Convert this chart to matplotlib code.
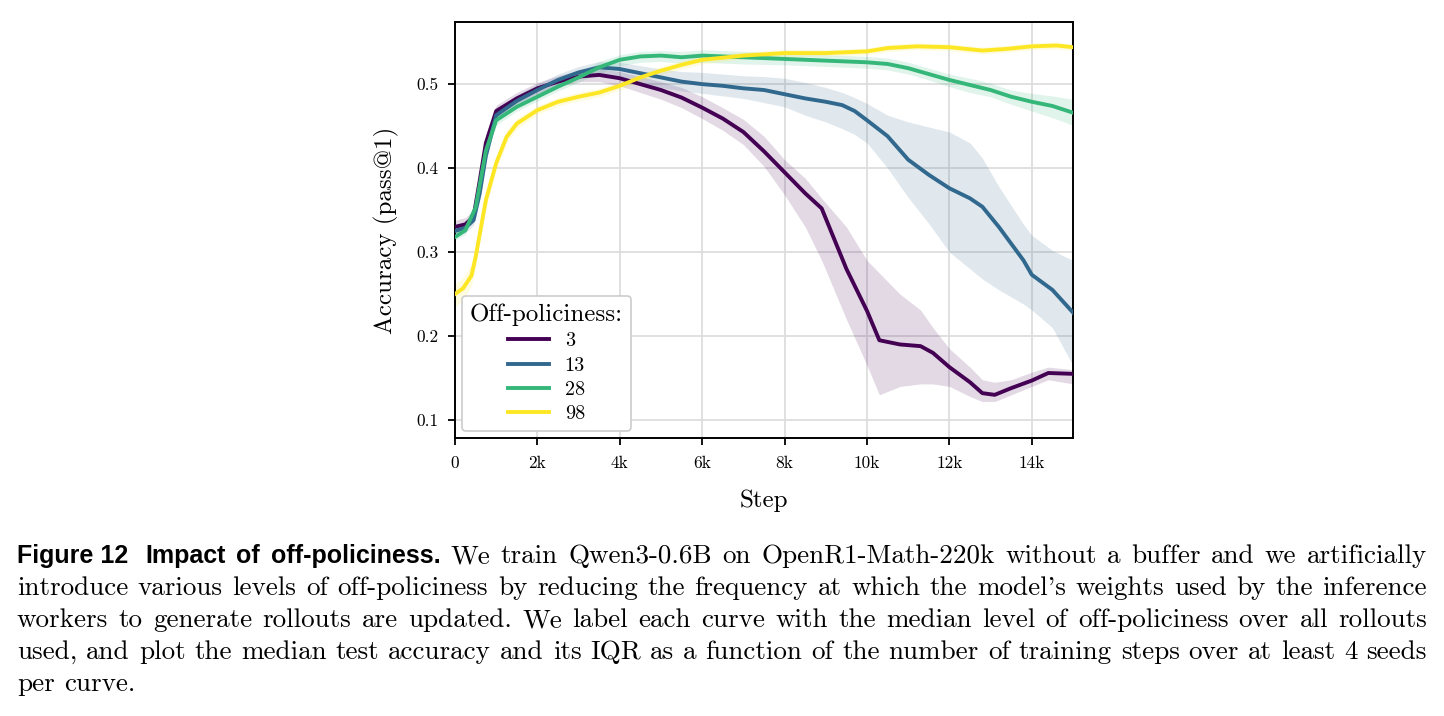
import matplotlib
matplotlib.use("Agg")
import matplotlib.pyplot as plt
import matplotlib.transforms as mtransforms
from matplotlib.ticker import FuncFormatter

plt.rcParams['font.family'] = ['cmr10', 'DejaVu Serif']
plt.rcParams['mathtext.fontset'] = 'cm'
plt.rcParams['axes.formatter.use_mathtext'] = True

# --- data ---
labels = ['3', '13', '28', '98']
colors = ['#440154', '#31688e', '#35b779', '#fde725']

steps_3 = [0, 250, 450, 600, 750, 1000, 1500, 2000, 2500, 3000, 3500, 4000, 4500, 5000, 5500,
           6000, 6500, 7000, 7500, 8000, 8500, 8900, 9500, 10000, 10300, 10800, 11300, 11600,
           12000, 12500, 12800, 13100, 13500, 14000, 14400, 15000]
acc_3 = [0.330, 0.333, 0.342, 0.385, 0.430, 0.468, 0.483, 0.495, 0.503, 0.509, 0.511, 0.507, 0.500,
         0.493, 0.484, 0.472, 0.459, 0.443, 0.420, 0.395, 0.370, 0.352, 0.280, 0.230, 0.195, 0.190,
         0.188, 0.180, 0.163, 0.145, 0.132, 0.130, 0.138, 0.147, 0.156, 0.155]
lo_3 = [0.325, 0.328, 0.336, 0.375, 0.420, 0.461, 0.477, 0.489, 0.497, 0.503, 0.503, 0.498, 0.490,
        0.482, 0.472, 0.459, 0.445, 0.428, 0.402, 0.368, 0.330, 0.290, 0.220, 0.165, 0.130, 0.140,
        0.143, 0.143, 0.140, 0.128, 0.122, 0.122, 0.130, 0.140, 0.148, 0.143]
hi_3 = [0.338, 0.341, 0.350, 0.393, 0.440, 0.475, 0.490, 0.502, 0.510, 0.516, 0.518, 0.515, 0.509,
        0.503, 0.496, 0.485, 0.472, 0.458, 0.438, 0.410, 0.388, 0.364, 0.330, 0.290, 0.275, 0.250,
        0.231, 0.210, 0.185, 0.163, 0.148, 0.145, 0.148, 0.157, 0.163, 0.160]

steps_13 = [0, 250, 450, 600, 750, 1000, 1500, 2000, 2500, 3000, 3500, 4000, 4500, 5000, 5500,
            6000, 6500, 7000, 7500, 8000, 8500, 9000, 9400, 9700, 10000, 10500, 11000, 11500,
            12000, 12500, 12800, 13200, 13800, 14000, 14500, 15000]
acc_13 = [0.325, 0.329, 0.338, 0.370, 0.415, 0.463, 0.480, 0.493, 0.505, 0.514, 0.520, 0.518, 0.513,
          0.508, 0.503, 0.500, 0.498, 0.495, 0.493, 0.488, 0.483, 0.479, 0.475, 0.468, 0.457, 0.438,
          0.410, 0.392, 0.376, 0.364, 0.354, 0.330, 0.290, 0.273, 0.255, 0.228]
lo_13 = [0.320, 0.323, 0.332, 0.362, 0.407, 0.456, 0.473, 0.486, 0.498, 0.507, 0.512, 0.508, 0.502,
         0.496, 0.492, 0.489, 0.486, 0.483, 0.478, 0.473, 0.463, 0.455, 0.447, 0.440, 0.430, 0.400,
         0.365, 0.334, 0.300, 0.280, 0.268, 0.255, 0.238, 0.231, 0.210, 0.165]
hi_13 = [0.332, 0.335, 0.345, 0.378, 0.423, 0.470, 0.487, 0.500, 0.512, 0.521, 0.527, 0.526, 0.522,
         0.518, 0.515, 0.514, 0.512, 0.510, 0.509, 0.507, 0.502, 0.496, 0.490, 0.484, 0.477, 0.463,
         0.455, 0.449, 0.443, 0.430, 0.412, 0.378, 0.333, 0.320, 0.302, 0.290]

steps_28 = [0, 250, 500, 750, 1000, 1500, 2000, 2500, 3000, 3500, 4000, 4500, 5000, 5500, 6000,
            7000, 8000, 9000, 10000, 10500, 11000, 11500, 12000, 12500, 13000, 13500, 14000,
            14500, 15000]
acc_28 = [0.318, 0.326, 0.353, 0.421, 0.457, 0.473, 0.485, 0.497, 0.508, 0.520, 0.529, 0.533, 0.534,
          0.532, 0.534, 0.532, 0.530, 0.528, 0.526, 0.524, 0.519, 0.512, 0.505, 0.499, 0.493, 0.485,
          0.479, 0.474, 0.466]
lo_28 = [0.314, 0.321, 0.346, 0.413, 0.451, 0.468, 0.480, 0.492, 0.502, 0.513, 0.522, 0.526, 0.527,
         0.525, 0.526, 0.524, 0.523, 0.521, 0.519, 0.517, 0.512, 0.505, 0.497, 0.490, 0.485, 0.476,
         0.468, 0.460, 0.451]
hi_28 = [0.322, 0.331, 0.360, 0.429, 0.463, 0.478, 0.490, 0.502, 0.514, 0.527, 0.535, 0.539, 0.540,
         0.539, 0.541, 0.539, 0.537, 0.535, 0.533, 0.531, 0.526, 0.519, 0.512, 0.507, 0.501, 0.493,
         0.489, 0.486, 0.482]

steps_98 = [0, 200, 400, 500, 750, 1000, 1250, 1500, 2000, 2500, 3000, 3500, 4000, 4500, 5000,
            5500, 6000, 7000, 8000, 9000, 10000, 10500, 11200, 12000, 12800, 13400, 14000, 14600,
            15000]
acc_98 = [0.250, 0.257, 0.272, 0.294, 0.362, 0.406, 0.437, 0.453, 0.469, 0.479, 0.485, 0.490, 0.498,
          0.508, 0.516, 0.523, 0.529, 0.534, 0.537, 0.537, 0.539, 0.543, 0.545, 0.544, 0.540, 0.542,
          0.545, 0.546, 0.544]
lo_98 = [0.235, 0.243, 0.260, 0.283, 0.352, 0.398, 0.430, 0.447, 0.464, 0.474, 0.480, 0.485, 0.493,
         0.503, 0.511, 0.518, 0.524, 0.530, 0.533, 0.533, 0.535, 0.539, 0.541, 0.540, 0.536, 0.538,
         0.541, 0.542, 0.540]
hi_98 = [0.262, 0.270, 0.285, 0.306, 0.372, 0.414, 0.444, 0.459, 0.474, 0.484, 0.490, 0.495, 0.503,
         0.513, 0.521, 0.528, 0.534, 0.538, 0.541, 0.541, 0.543, 0.547, 0.549, 0.548, 0.544, 0.546,
         0.549, 0.550, 0.548]

x_ticks = [0, 2000, 4000, 6000, 8000, 10000, 12000, 14000]
y_ticks = [0.1, 0.2, 0.3, 0.4, 0.5]

caption_head = ['Figure 12', 'Impact of off-policiness.']
caption_lines = [
    "We train Qwen3-0.6B on OpenR1-Math-220k without a buffer and we artificially",
    "introduce various levels of off-policiness by reducing the frequency at which the model's weights used by the inference",
    "workers to generate rollouts are updated. We label each curve with the median level of off-policiness over all rollouts",
    "used, and plot the median test accuracy and its IQR as a function of the number of training steps over at least 4 seeds",
    "per curve.",
]

series = [
    (steps_3, acc_3, lo_3, hi_3),
    (steps_13, acc_13, lo_13, hi_13),
    (steps_28, acc_28, lo_28, hi_28),
    (steps_98, acc_98, lo_98, hi_98),
]

# --- figure ---
W, H = 1444, 716
fig = plt.figure(figsize=(W / 100, H / 100), dpi=100)
ax = fig.add_axes([455 / W, 1 - 438 / H, (1073 - 455) / W, (438 - 22) / H])

for (s, a, lo, hi), c, lab in zip(series, colors, labels):
    ax.fill_between(s, lo, hi, color=c, alpha=0.15, lw=0, zorder=2)
    ax.plot(s, a, color=c, lw=2.8, label=lab, zorder=3)

ax.set_xlim(0, 15000)
ax.set_ylim(0.0786, 0.574)
ax.set_xticks(x_ticks)
ax.set_yticks(y_ticks)
ax.xaxis.set_major_formatter(FuncFormatter(lambda v, p: '0' if v == 0 else f'{int(v // 1000)}k'))
ax.yaxis.set_major_formatter(FuncFormatter(lambda v, p: f'{v:.1f}'))
ax.tick_params(direction='out', length=5, width=1.3, labelsize=12.5)
ax.tick_params(axis='x', pad=8)
ax.tick_params(axis='y', pad=7)
for sp in ax.spines.values():
    sp.set_linewidth(1.4)
ax.grid(color='#dddddd', lw=1.3, zorder=0)
ax.set_axisbelow(True)

ax.set_xlabel('Step', fontsize=18, labelpad=13)
ax.set_ylabel('Accuracy (pass@1)', fontsize=18, labelpad=12)

leg = ax.legend(title='Off-policiness:', loc='lower left', fontsize=14.5, title_fontsize=18,
                handlelength=2.0, labelspacing=0.3, framealpha=1, edgecolor='#cccccc',
                borderaxespad=0.35, borderpad=0.4)
leg.get_frame().set_linewidth(1.2)

# --- caption, justified line by line ---
renderer = fig.canvas.get_renderer()
ident = mtransforms.IdentityTransform()
body = dict(family=['cmr10', 'DejaVu Serif'], fontsize=19.5)
head = dict(family='Liberation Sans', fontweight='bold', fontsize=18)
X0, X1 = 17, 1427


def put_line(tokens, y, justify=True):
    arts, extras = [], []
    for word, style, extra in tokens:
        arts.append(fig.text(0, 0, word, transform=ident, ha='left', va='baseline', **style))
        extras.append(extra)
    widths = [t.get_window_extent(renderer).width for t in arts]
    if justify:
        gap = (X1 - X0 - sum(widths) - sum(extras)) / (len(arts) - 1)
    else:
        gap = 19.5 * 100 / 72 * 0.33
    x = X0
    for t, w, e in zip(arts, widths, extras):
        t.set_position((x, H - y))
        x += w + gap + e


line_y = [563, 595, 627, 659, 691]
for i, (line, y) in enumerate(zip(caption_lines, line_y)):
    tokens = [(w, body, 0) for w in line.split()]
    if i == 0:
        hd = [(caption_head[0], head, 7)] + [(w, head, 0) for w in caption_head[1].split()]
        tokens = hd + tokens
    put_line(tokens, y, justify=(i < len(caption_lines) - 1))

fig.savefig('out.png', dpi=100)
